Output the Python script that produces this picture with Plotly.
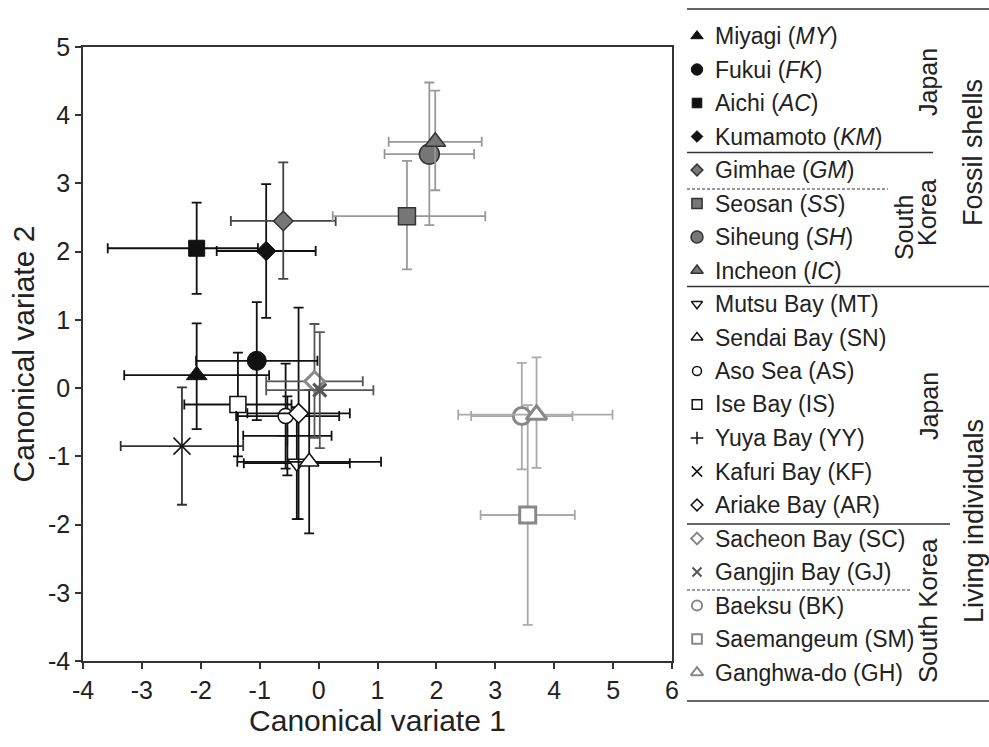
import plotly.graph_objects as go

W, H = 989, 747

# ---------------- data ----------------
labels = ["Miyagi (<i>MY</i>)", "Fukui (<i>FK</i>)", "Aichi (<i>AC</i>)", "Kumamoto (<i>KM</i>)",
          "Gimhae (<i>GM</i>)", "Seosan (<i>SS</i>)", "Siheung (<i>SH</i>)", "Incheon (<i>IC</i>)",
          "Mutsu Bay (MT)", "Sendai Bay (SN)", "Aso Sea (AS)", "Ise Bay (IS)", "Yuya Bay (YY)",
          "Kafuri Bay (KF)", "Ariake Bay (AR)", "Sacheon Bay (SC)", "Gangjin Bay (GJ)",
          "Baeksu (BK)", "Saemangeum (SM)", "Ganghwa-do (GH)"]
codes = ["MY", "FK", "AC", "KM", "GM", "SS", "SH", "IC",
         "MT", "SN", "AS", "IS", "YY", "KF", "AR", "SC", "GJ", "BK", "SM", "GH"]
cv1 = [-2.07, -1.05, -2.07, -0.89, -0.60, 1.50, 1.88, 1.98,
       -0.37, -0.16, -0.56, -1.37, -0.53, -2.32, -0.34, -0.07, 0.02, 3.45, 3.55, 3.70]
cv2 = [0.19, 0.40, 2.05, 2.01, 2.45, 2.52, 3.43, 3.61,
       -1.10, -1.08, -0.41, -0.24, -0.70, -0.85, -0.37, 0.10, -0.03, -0.41, -1.86, -0.39]
cv1_err_plus = [1.23, 1.03, 1.04, 0.84, 0.89, 1.33, 0.76, 0.79,
                0.90, 1.22, 0.91, 0.91, 0.75, 1.04, 0.87, 0.82, 0.91, 0.86, 0.80, 1.29]
cv1_err_minus = [1.23, 1.03, 1.51, 0.84, 0.89, 1.26, 0.76, 0.79,
                 0.90, 1.22, 0.84, 0.91, 0.75, 1.04, 0.87, 0.82, 0.91, 0.86, 0.80, 1.33]
cv2_err_plus = [0.76, 0.86, 0.67, 0.98, 0.86, 0.81, 1.05, 0.75,
                0.82, 1.05, 0.77, 0.76, 0.58, 0.86, 1.55, 0.84, 0.85, 0.78, 1.61, 0.84]
cv2_err_minus = [0.79, 0.87, 0.67, 0.98, 0.85, 0.78, 1.04, 0.71,
                 0.82, 1.05, 0.77, 0.76, 0.58, 0.86, 1.55, 0.83, 0.85, 0.78, 1.61, 0.78]

x_ticks = [-4, -3, -2, -1, 0, 1, 2, 3, 4, 5, 6]
y_ticks = [-4, -3, -2, -1, 0, 1, 2, 3, 4, 5]

# ---------------- styles ----------------
BLK = "#111111"
DG = "#444444"
MG = "#777777"
LG = "#999999"
WH = "#ffffff"
styles = {
    "MY": dict(sym="triangle-up", size=18, fill=BLK, line=BLK, lw=1, err=BLK),
    "FK": dict(sym="circle", size=19, fill=BLK, line=BLK, lw=1, err=BLK),
    "AC": dict(sym="square", size=16, fill=BLK, line=BLK, lw=1, err=BLK),
    "KM": dict(sym="diamond", size=15, fill=BLK, line=BLK, lw=1, err=BLK),
    "GM": dict(sym="diamond", size=15, fill=MG, line="#333333", lw=1.5, err=DG),
    "SS": dict(sym="square", size=17, fill=MG, line="#333333", lw=1.5, err=LG),
    "SH": dict(sym="circle", size=20, fill=MG, line="#333333", lw=1.5, err=LG),
    "IC": dict(sym="triangle-up", size=18, fill=MG, line="#333333", lw=1.5, err=LG),
    "MT": dict(sym="triangle-down", size=16, fill=WH, line=BLK, lw=1.5, err=BLK),
    "SN": dict(sym="triangle-up", size=17, fill=WH, line=BLK, lw=1.5, err=BLK),
    "AS": dict(sym="circle", size=15, fill=WH, line=BLK, lw=1.5, err=BLK),
    "IS": dict(sym="square", size=16, fill=WH, line=BLK, lw=1.5, err=BLK),
    "YY": dict(sym="cross-thin-open", size=14, fill=BLK, line=BLK, lw=1.5, err=BLK),
    "KF": dict(sym="x-thin-open", size=17, fill=BLK, line="#333333", lw=1.5, err="#333333"),
    "AR": dict(sym="diamond", size=15, fill=WH, line=BLK, lw=1.5, err=BLK),
    "SC": dict(sym="diamond", size=15, fill=WH, line="#888888", lw=3, err="#555555"),
    "GJ": dict(sym="x-thin-open", size=13, fill="#555555", line="#555555", lw=3, err="#555555"),
    "BK": dict(sym="circle", size=17, fill=WH, line="#888888", lw=3, err="#aaaaaa"),
    "SM": dict(sym="square", size=16, fill=WH, line="#888888", lw=3, err="#aaaaaa"),
    "GH": dict(sym="triangle-up", size=18, fill=WH, line="#888888", lw=3, err="#aaaaaa"),
}
draw_order = ["SM", "BK", "GH", "KF", "IS", "MT", "SN", "YY", "AS", "AR", "SC", "GJ",
              "MY", "FK", "AC", "KM", "GM", "SS", "SH", "IC"]

fig = go.Figure()

for c in draw_order:
    i = codes.index(c)
    s = styles[c]
    fig.add_trace(go.Scatter(
        x=[cv1[i]], y=[cv2[i]], mode="markers", showlegend=False,
        marker=dict(symbol=s["sym"], size=s["size"], color=s["fill"],
                    line=dict(color=s["line"], width=s["lw"])),
        error_x=dict(type="data", symmetric=False, array=[cv1_err_plus[i]],
                     arrayminus=[cv1_err_minus[i]], color=s["err"], thickness=1.8, width=5),
        error_y=dict(type="data", symmetric=False, array=[cv2_err_plus[i]],
                     arrayminus=[cv2_err_minus[i]], color=s["err"], thickness=1.8, width=5),
        xaxis="x", yaxis="y",
    ))

# ---------------- legend (drawn on a pixel-scaled helper axis) ----------------
LX0 = 687
leg_y0, leg_step = 36, 33.5
marker_x = 697
text_x = 713
for i, c in enumerate(codes):
    s = styles[c]
    ypx = leg_y0 + i * leg_step
    fig.add_trace(go.Scatter(
        x=[marker_x], y=[ypx], mode="markers", showlegend=False, hoverinfo="skip",
        marker=dict(symbol=s["sym"], size=max(9, s["size"] * 0.6), color=s["fill"],
                    line=dict(color=s["line"], width=min(s["lw"], 2))),
        xaxis="x2", yaxis="y2",
    ))
    fig.add_annotation(x=text_x / W, y=1 - ypx / H, xref="paper", yref="paper",
                       text=labels[i], showarrow=False, xanchor="left", yanchor="middle",
                       font=dict(size=23, color="#222222"))

group_labels = [
    ("Japan", 928, 82, 25),
    ("South", 904, 228, 25),
    ("Korea", 927, 213, 25),
    ("Fossil shells", 973, 153, 27),
    ("Japan", 929, 406, 25),
    ("South Korea", 928, 611, 26),
    ("Living individuals", 974, 521, 27),
]
for txt, gx, gy, fs in group_labels:
    fig.add_annotation(x=gx / W, y=1 - gy / H, xref="paper", yref="paper", text=txt,
                       showarrow=False, textangle=-90, xanchor="center", yanchor="middle",
                       font=dict(size=fs, color="#222222"))

sep_lines = [
    (LX0, 989, 9, "solid"),
    (LX0, 933, 152.5, "solid"),
    (LX0, 888, 189, "dash"),
    (LX0, 989, 286.5, "solid"),
    (LX0, 950, 524, "solid"),
    (LX0, 912, 590, "dash"),
    (LX0, 989, 701, "solid"),
]
for x0, x1, yy, dash in sep_lines:
    fig.add_shape(type="line", xref="paper", yref="paper",
                  x0=x0 / W, x1=x1 / W, y0=1 - yy / H, y1=1 - yy / H,
                  line=dict(color="#333333", width=1.5 if dash == "solid" else 1,
                            dash="solid" if dash == "solid" else "3px,2px"))

fig.update_layout(
    width=W, height=H,
    margin=dict(l=0, r=0, t=0, b=0, autoexpand=False),
    paper_bgcolor="white", plot_bgcolor="rgba(0,0,0,0)",
    font=dict(family="Liberation Sans, Arial, sans-serif", color="#222222"),
    xaxis=dict(domain=[83 / W, 672 / W], range=[-4, 6], tickvals=x_ticks,
               ticktext=[str(v) for v in x_ticks], automargin=False,
               ticks="outside", ticklen=6, tickwidth=1.5, tickcolor="#333333",
               showline=True, linecolor="#333333", linewidth=1.5, mirror=True,
               showgrid=False, zeroline=False, tickfont=dict(size=25),
               title=dict(text="Canonical variate 1", font=dict(size=30), standoff=2),
               anchor="y"),
    yaxis=dict(domain=[1 - 661 / H, 1 - 47 / H], range=[-4, 5], tickvals=y_ticks,
               ticktext=[str(v) for v in y_ticks], automargin=False,
               ticks="outside", ticklen=6, tickwidth=1.5, tickcolor="#333333",
               showline=True, linecolor="#333333", linewidth=1.5, mirror=True,
               showgrid=False, zeroline=False, tickfont=dict(size=25),
               title=dict(text="Canonical variate 2", font=dict(size=30), standoff=5),
               anchor="x"),
    xaxis2=dict(domain=[LX0 / W, 1], range=[LX0, W], visible=False, anchor="y2",
                automargin=False),
    yaxis2=dict(domain=[0, 1], range=[H, 0], visible=False, anchor="x2",
                automargin=False),
)

fig.write_html("out.html", config={"displayModeBar": False},
               post_script="document.body.style.margin='0px';")
